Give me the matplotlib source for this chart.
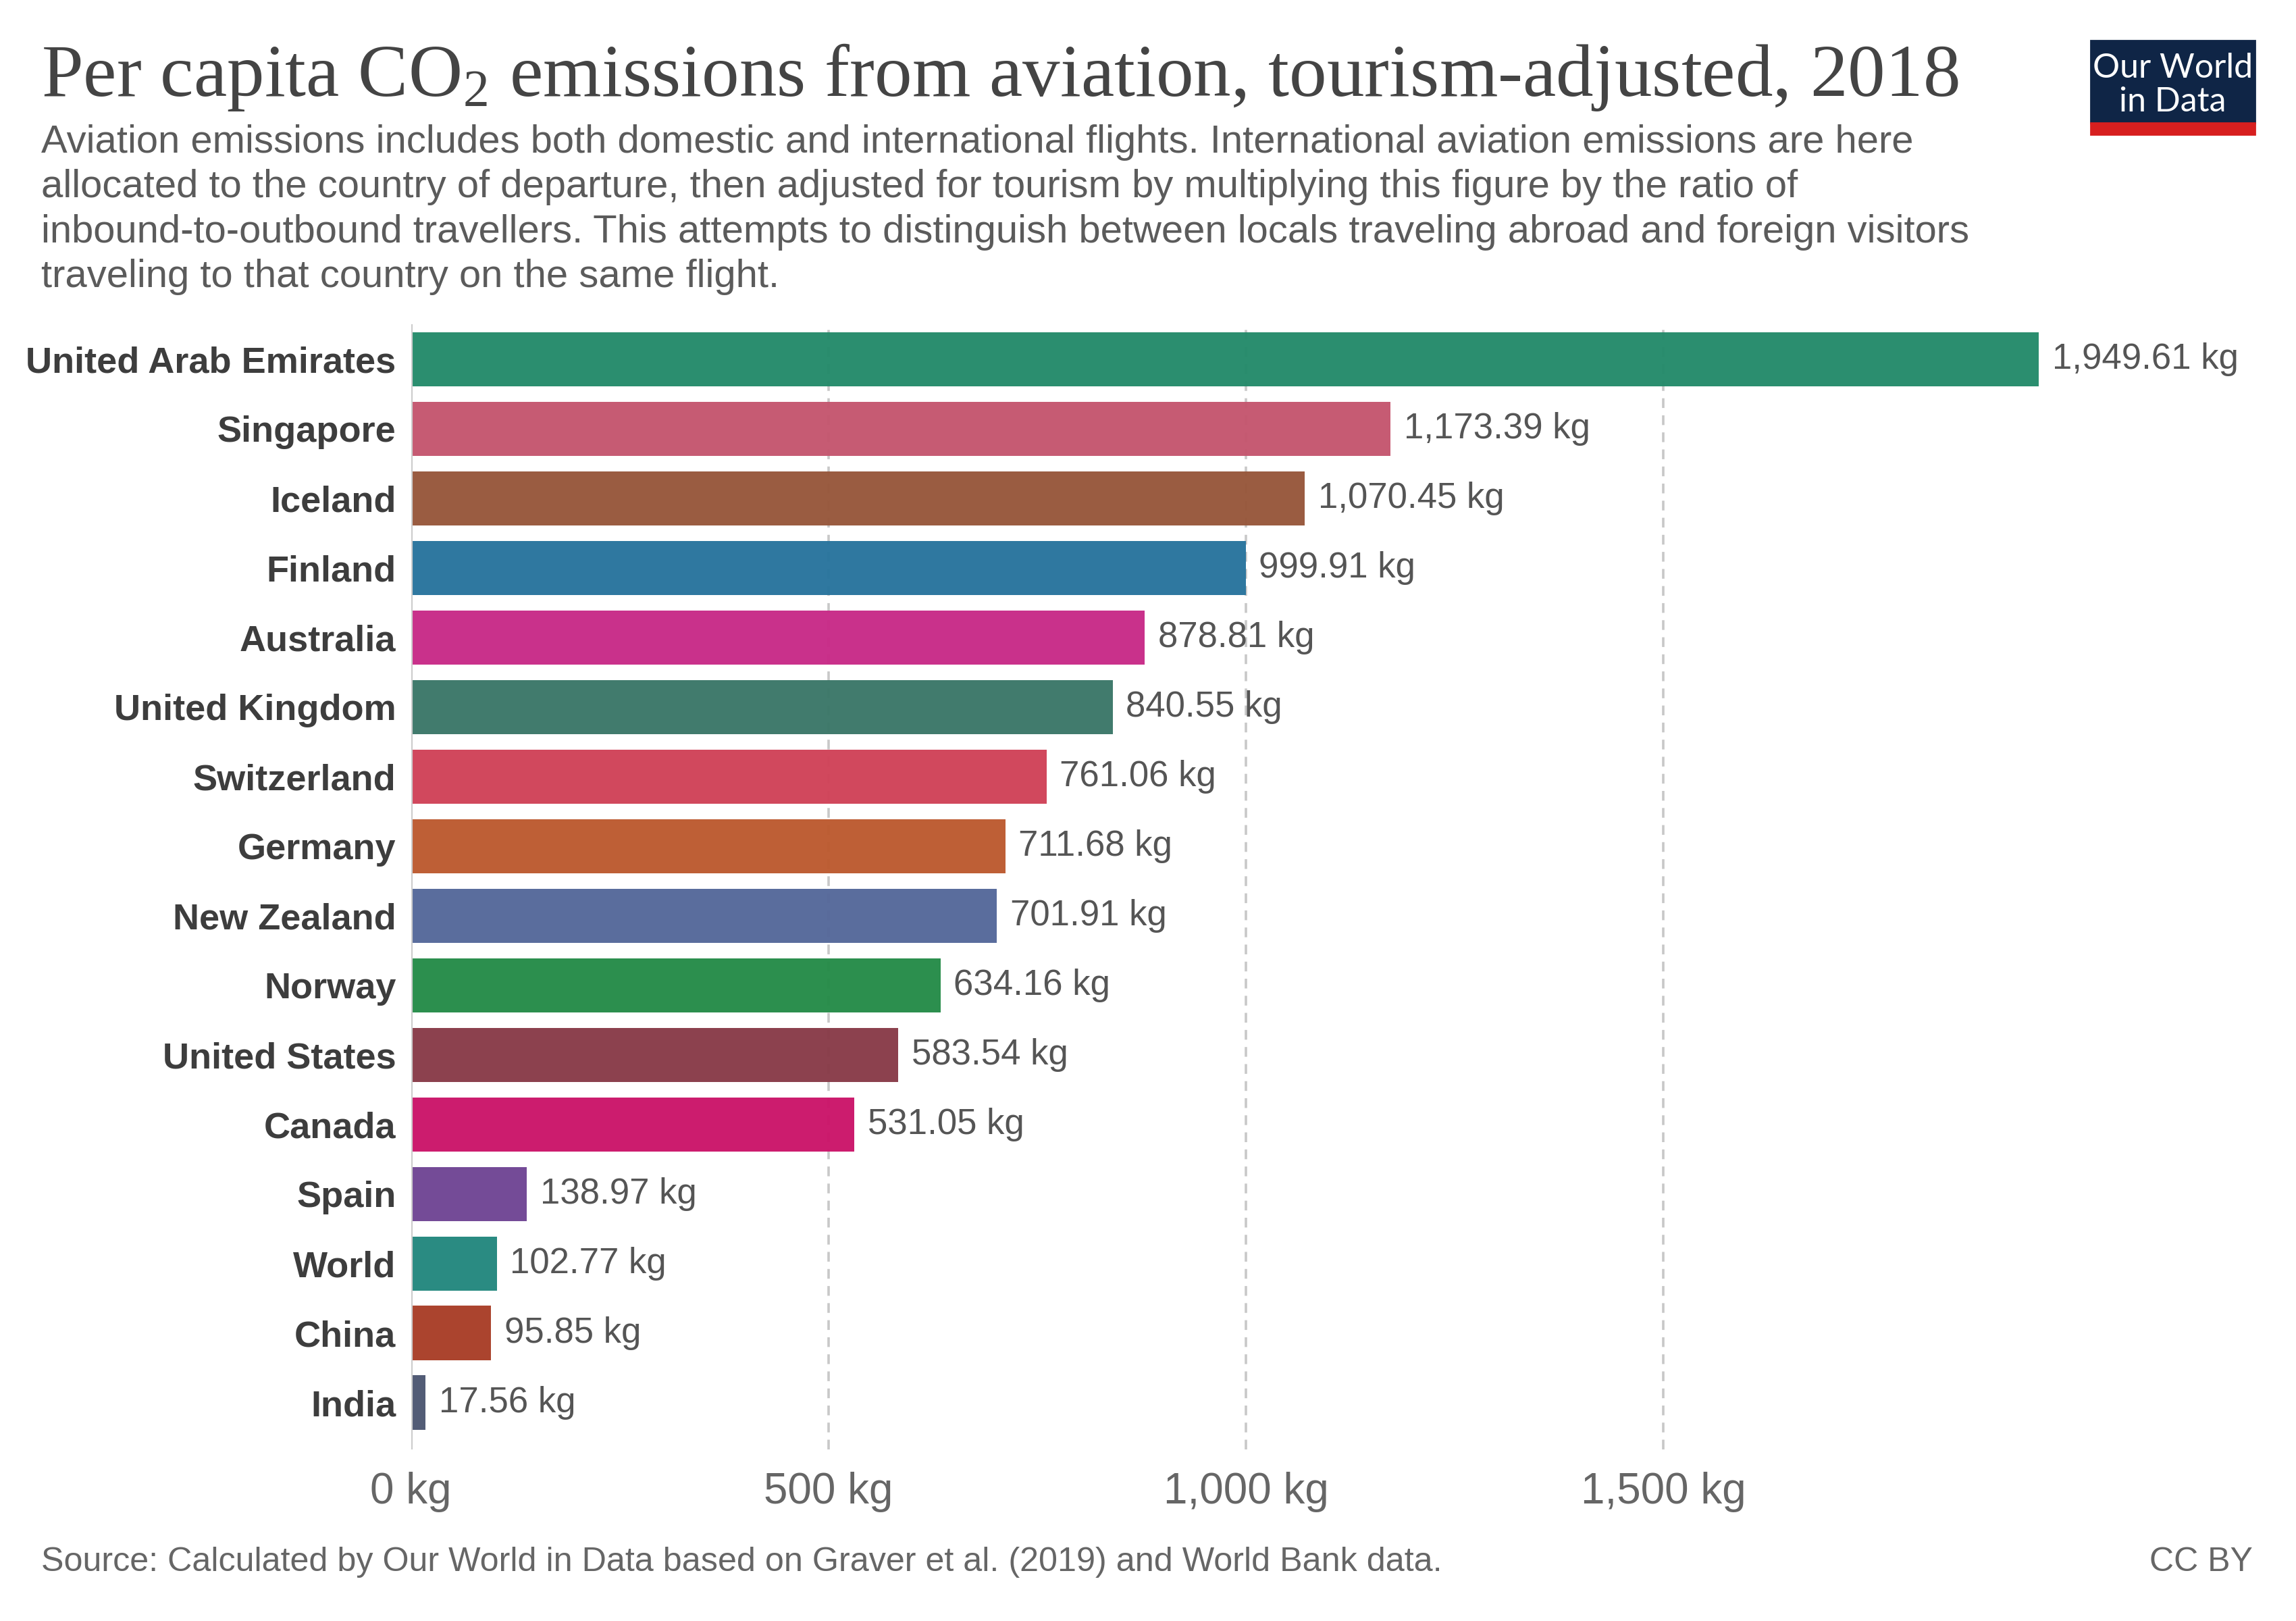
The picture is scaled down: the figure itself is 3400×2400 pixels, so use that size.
import matplotlib.pyplot as plt
from matplotlib.patches import Rectangle

countries = ['United Arab Emirates', 'Singapore', 'Iceland', 'Finland', 'Australia',
             'United Kingdom', 'Switzerland', 'Germany', 'New Zealand', 'Norway',
             'United States', 'Canada', 'Spain', 'World', 'China', 'India']
values = [1949.61, 1173.39, 1070.45, 999.91, 878.81, 840.55, 761.06, 711.68,
          701.91, 634.16, 583.54, 531.05, 138.97, 102.77, 95.85, 17.56]
colors = ['#248a6a', '#c4566e', '#97573b', '#28749d', '#c82a87', '#3b7768',
          '#d04258', '#bc5a2f', '#55689a', '#258b48', '#883b48', '#cb1469',
          '#6f4594', '#23877e', '#a83e27', '#4c5772']
xticks = [0, 500, 1000, 1500]
xtick_labels = ['0 kg', '500 kg', '1,000 kg', '1,500 kg']

title = 'Per capita CO$_2$ emissions from aviation, tourism-adjusted, 2018'
subtitle = ('Aviation emissions includes both domestic and international flights. International aviation emissions are here\n'
            'allocated to the country of departure, then adjusted for tourism by multiplying this figure by the ratio of\n'
            'inbound-to-outbound travellers. This attempts to distinguish between locals traveling abroad and foreign visitors\n'
            'traveling to that country on the same flight.')
source = 'Source: Calculated by Our World in Data based on Graver et al. (2019) and World Bank data.'

plt.rcParams['font.family'] = ['Liberation Sans', 'DejaVu Sans']
plt.rcParams['mathtext.fontset'] = 'custom'
plt.rcParams['mathtext.rm'] = 'Liberation Serif'
plt.rcParams['mathtext.it'] = 'Liberation Serif'
plt.rcParams['mathtext.default'] = 'rm'

fig = plt.figure(figsize=(17, 12), dpi=200)
ax = fig.add_axes([0.179, 0.106, 0.888 - 0.179, 0.80 - 0.106])

ypos = list(range(len(countries)))
ax.barh(ypos, values, height=0.78, color=colors, alpha=0.97, zorder=2)

for y, v in zip(ypos, values):
    ax.annotate(f'{v:,.2f} kg', xy=(v, y), xytext=(7, 0), textcoords='offset points',
                va='center', ha='left', fontsize=19, color='#555555')

ax.set_xlim(0, max(values))
ax.set_ylim(len(countries) - 1 + 0.67, -0.505)
ax.set_yticks(ypos)
ax.set_yticklabels(countries, fontsize=19.5, fontweight='bold', color='#3d3d3d')
ax.set_xticks(xticks)
ax.set_xticklabels(xtick_labels, fontsize=23, color='#666666')
ax.tick_params(axis='y', length=0, pad=8)
ax.tick_params(axis='x', length=0, pad=12)

for t in xticks[1:]:
    ax.axvline(t, color='#c8c8c8', lw=1.3, ls=(0, (4, 3)), zorder=1)
ax.axvline(0, color='#cccccc', lw=1.5, zorder=3)

for s in ax.spines.values():
    s.set_visible(False)

fig.text(0.018, 0.941, title, family='Liberation Serif',
         fontsize=40, color='#444444', va='baseline', ha='left')
fig.text(0.018, 0.9235, subtitle, fontsize=20.9, color='#5b5b5b', va='top', ha='left',
         linespacing=1.30)
fig.text(0.018, 0.031, source, fontsize=18.1, color='#666666', va='baseline', ha='left')
fig.text(0.981, 0.031, 'CC BY', fontsize=18, color='#666666', va='baseline', ha='right')

# logo
fig.patches.append(Rectangle((0.9106, 0.924), 0.982 - 0.9106, 0.975 - 0.924,
                             transform=fig.transFigure, color='#0f2546', zorder=5))
fig.patches.append(Rectangle((0.9106, 0.917), 0.982 - 0.9106, 0.007,
                             transform=fig.transFigure, color='#d71f1f', zorder=5))
fig.text(0.9463, 0.958, 'Our World', family=['Lato', 'DejaVu Sans'], fontsize=18,
         color='white', ha='center', va='center', zorder=6)
fig.text(0.9463, 0.937, 'in Data', family=['Lato', 'DejaVu Sans'], fontsize=18,
         color='white', ha='center', va='center', zorder=6)

fig.savefig('out.png', dpi=200, facecolor='white')
